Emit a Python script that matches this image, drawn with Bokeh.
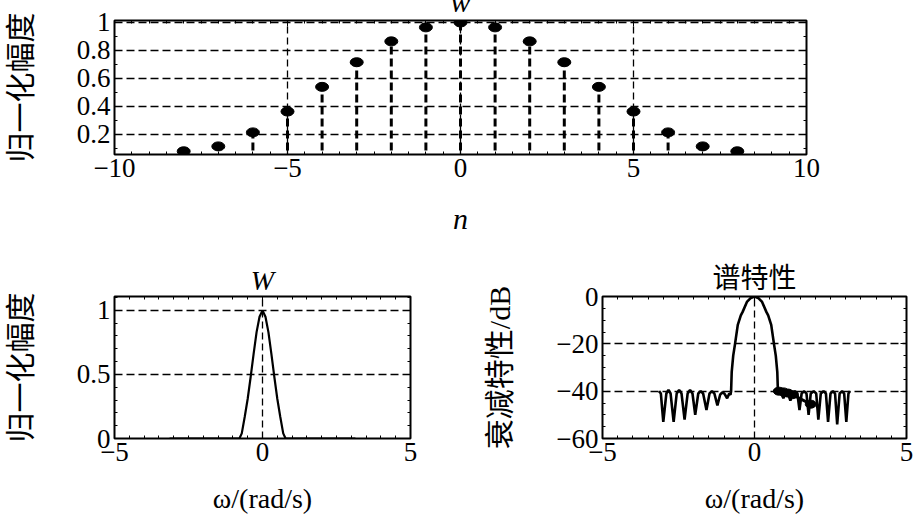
from bokeh.plotting import figure
from bokeh.models import Range1d, FixedTicker, LinearAxis, CustomJSTickFormatter, Title
from bokeh.layouts import column, row
from bokeh.embed import file_html
from bokeh.resources import INLINE
import numpy as np

# ---------------- data ----------------
n_idx = [-8, -7, -6, -5, -4, -3, -2, -1, 0, 1, 2, 3, 4, 5, 6, 7, 8]
w_vals = [0.08, 0.115, 0.215, 0.364, 0.54, 0.716, 0.865, 0.965, 1.0,
          0.965, 0.865, 0.716, 0.54, 0.364, 0.215, 0.115, 0.08]

omega_W = [-3.14, -0.78, -0.70, -0.60, -0.50, -0.40, -0.30, -0.20, -0.10, 0.0,
           0.10, 0.20, 0.30, 0.40, 0.50, 0.60, 0.70, 0.78, 3.14]
W_vals = [0.0, 0.0, 0.04, 0.17, 0.31, 0.48, 0.66, 0.83, 0.95, 1.0,
          0.95, 0.83, 0.66, 0.48, 0.31, 0.17, 0.04, 0.0, 0.0]

omega_dB = [-3.14, -3.08, -3.00, -2.90, -2.83, -2.76, -2.66, -2.56, -2.48, -2.40,
            -2.30, -2.20, -2.12, -2.04, -1.95, -1.85, -1.77, -1.69, -1.58, -1.48,
            -1.40, -1.32, -1.22, -1.13, -1.06, -0.99, -0.90, -0.83, -0.79, -0.77,
            -0.75, -0.70, -0.64, -0.55, -0.45, -0.39, -0.25, -0.12, 0.0,
            0.12, 0.25, 0.39, 0.45, 0.55, 0.64, 0.70, 0.75, 0.77, 0.82,
            0.88, 0.95, 1.03, 1.10, 1.18, 1.25, 1.33, 1.41, 1.48, 1.55,
            1.63, 1.71, 1.78, 1.85, 1.95, 2.03, 2.10, 2.18, 2.27, 2.35,
            2.42, 2.50, 2.58, 2.65, 2.72, 2.80, 2.88, 2.95, 3.02, 3.09, 3.14]
dB_vals = [-40, -41, -53, -41, -39.5, -41, -53, -41, -39.5, -41,
           -52, -41, -39.5, -41, -50, -41, -40, -41, -48, -41,
           -40, -41, -46, -41.5, -40.5, -41, -43, -41, -41.5, -40,
           -32, -25, -20, -12, -8, -6.5, -2.3, -0.6, 0,
           -0.6, -2.3, -6.5, -8, -12, -20, -25, -32, -40, -40.5,
           -41, -43, -40.5, -41, -44, -41, -40, -41, -48, -41,
           -40, -41, -50, -41, -40, -41, -52, -41, -40, -41,
           -53, -41, -40, -41, -54, -41, -40, -41, -53, -41, -40]

blob_omega = [0.80, 0.95, 1.10, 1.25, 1.85]
blob_dB = [-40.0, -40.3, -40.8, -41.5, -45.5]

top_xticks = [-10, -5, 0, 5, 10]
top_yticks = [0.2, 0.4, 0.6, 0.8, 1]
bot_xticks = [-5, 0, 5]
bl_yticks = [0, 0.5, 1]
br_yticks = [-60, -40, -20, 0]

SERIF = "Liberation Serif"
CJK = "Liberation Serif, 'Noto Sans CJK SC'"

minus_fmt = "return tick < 0 ? '\u2212' + String(-tick) : String(tick);"


def style(p, xt, xminor, yt, yminor, xgrid, ygrid, vdash_w=1.3, hdash_w=1.6):
    p.outline_line_color = "black"
    p.outline_line_width = 2
    p.background_fill_color = "white"
    p.border_fill_color = "white"
    xa = p.below[0]
    ya = p.left[0]
    for ax, t, m in ((xa, xt, xminor), (ya, yt, yminor)):
        ax.ticker = FixedTicker(ticks=t, minor_ticks=m)
        ax.formatter = CustomJSTickFormatter(code=minus_fmt)
        ax.axis_line_color = None
        ax.major_tick_in = 6
        ax.major_tick_out = 0
        ax.minor_tick_in = 3
        ax.minor_tick_out = 0
        ax.major_tick_line_color = "black"
        ax.minor_tick_line_color = "black"
        ax.major_label_text_font = SERIF
        ax.major_label_text_font_size = "27px"
        ax.major_label_text_color = "black"
        ax.major_label_standoff = 4
        ax.axis_label_text_color = "black"
        ax.axis_label_text_font_style = "normal"
    # mirrored tick axes (no labels), placed right next to the frame
    for loc, t, m in (("right", yt, yminor), ("above", xt, xminor)):
        ax = LinearAxis(ticker=FixedTicker(ticks=t, minor_ticks=m),
                        formatter=CustomJSTickFormatter(code="return '';"))
        ax.axis_line_color = None
        ax.major_tick_in = 6
        ax.major_tick_out = 0
        ax.minor_tick_in = 3
        ax.minor_tick_out = 0
        ax.major_label_text_font_size = "0px"
        ax.major_label_standoff = 0
        p.add_layout(ax, loc)
    p.xgrid.ticker = FixedTicker(ticks=xgrid)
    p.ygrid.ticker = FixedTicker(ticks=ygrid)
    p.xgrid.grid_line_color = "black"
    p.xgrid.grid_line_dash = "7 4"
    p.xgrid.grid_line_width = vdash_w
    p.ygrid.grid_line_color = "black"
    p.ygrid.grid_line_dash = "8 4"
    p.ygrid.grid_line_width = hdash_w
    return xa, ya


# ---------------- top: window w(n) ----------------
SHIFT = 21
top = figure(width=914, height=262 + SHIFT, output_backend="svg", toolbar_location=None,
             x_range=Range1d(-10, 10), y_range=Range1d(0.057, 1.014),
             min_border_left=110, min_border_right=108, min_border_top=20 + SHIFT,
             min_border_bottom=108, margin=(-SHIFT, 0, 0, 0))
txa, tya = style(top, top_xticks, list(np.arange(-10, 10.01, 0.5)), top_yticks,
                 list(np.round(np.arange(0.1, 1.01, 0.1), 2)), [-5, 0, 5], top_yticks)
top.add_layout(Title(text="w", text_font=SERIF, text_font_style="italic",
                     text_font_size="30px", align="center", standoff=6,
                     text_color="black"), "above")
top.segment(x0=n_idx, y0=[0] * len(n_idx), x1=n_idx, y1=w_vals,
            line_color="black", line_width=3, line_dash="8 4")
top.ellipse(x=n_idx, y=w_vals, width=13, height=9, width_units="screen",
            height_units="screen", fill_color="black", line_color="black")
txa.axis_label = "n"
txa.axis_label_text_font = SERIF
txa.axis_label_text_font_style = "italic"
txa.axis_label_text_font_size = "30px"
txa.axis_label_standoff = 22
tya.axis_label = "归一化幅度"
tya.axis_label_text_font = CJK
tya.axis_label_text_font_size = "30px"
tya.axis_label_standoff = 37

# ---------------- bottom-left: W(omega) ----------------
LSHIFT = 6
bl = figure(width=460, height=256 + LSHIFT, output_backend="svg", toolbar_location=None,
            x_range=Range1d(-5, 5), y_range=Range1d(0, 1.108),
            min_border_left=110, min_border_right=50, min_border_top=34 + LSHIFT,
            min_border_bottom=79, margin=(-LSHIFT, 0, 0, 0))
bxa, bya = style(bl, bot_xticks, list(np.arange(-5, 5.01, 0.5)), bl_yticks,
                 list(np.round(np.arange(0, 1.11, 0.1), 2)), [0], [0.5, 1])
bl.add_layout(Title(text="W", text_font=SERIF, text_font_style="italic",
                    text_font_size="28px", align="center", standoff=2,
                    text_color="black"), "above")
bl.line(omega_W, W_vals, line_color="black", line_width=2.2)
bxa.axis_label = "ω/(rad/s)"
bxa.axis_label_text_font = SERIF
bxa.axis_label_text_font_size = "28px"
bxa.axis_label_standoff = 19
bya.axis_label = "归一化幅度"
bya.axis_label_text_font = CJK
bya.axis_label_text_font_size = "30px"
bya.axis_label_standoff = 37

# ---------------- bottom-right: spectrum in dB ----------------
BSHIFT = 6
br = figure(width=454, height=256 + BSHIFT, output_backend="svg", toolbar_location=None,
            x_range=Range1d(-5, 5), y_range=Range1d(-60, 0),
            min_border_left=142, min_border_right=8, min_border_top=32 + BSHIFT,
            min_border_bottom=80, margin=(-BSHIFT, 0, 0, 0))
rxa, rya = style(br, bot_xticks, list(np.arange(-5, 5.01, 0.5)), br_yticks,
                 list(np.arange(-60, 0.1, 5)), [0], [-20, -40], hdash_w=1.4)
br.add_layout(Title(text="谱特性", text_font=CJK, text_font_size="28px",
                    text_font_style="normal", align="center", standoff=5,
                    text_color="black"), "above")
br.line(omega_dB, dB_vals, line_color="black", line_width=2.6)
br.line(blob_omega, blob_dB, line_color="black", line_width=3)
br.ellipse(x=blob_omega, y=blob_dB, width=11, height=8, width_units="screen",
           height_units="screen", fill_color="black", line_color="black")
rxa.axis_label = "ω/(rad/s)"
rxa.axis_label_text_font = SERIF
rxa.axis_label_text_font_size = "28px"
rxa.axis_label_standoff = 19
rya.axis_label = "衰减特性/dB"
rya.axis_label_text_font = CJK
rya.axis_label_text_font_size = "30px"
rya.axis_label_standoff = 37

layout = column(top, row(bl, br))
open("out.html", "w").write(file_html(layout, INLINE))
